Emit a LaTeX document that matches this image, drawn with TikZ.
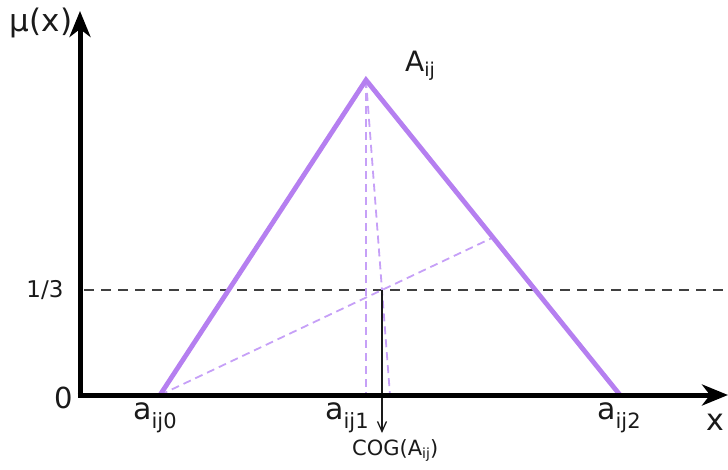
\documentclass[tikz,border=0pt]{standalone}
\usepackage{fontspec}
\setmainfont{DejaVu Sans}
\usetikzlibrary{positioning,calc,arrows.meta}
\usepackage{xcolor}
\definecolor{lilac}{HTML}{B57FF0}
\definecolor{lilacpale}{HTML}{C6A0F7}
\definecolor{inkgrey}{HTML}{1A1A1A}
\newcommand\lowsub[3]{\raisebox{#2}{\fontsize{#1}{#1}\selectfont #3}}

\begin{document}
\begin{tikzpicture}[x=1pt,y=1pt,
  axis/.style={line width=5pt,black,-{Stealth[length=26pt,width=21pt,inset=8pt]}},
  tri/.style={line width=4.8pt,lilac},
  hint/.style={line width=1.8pt,lilacpale,dash pattern=on 8pt off 5pt},
  guide/.style={line width=1.6pt,black!75,dash pattern=on 10pt off 7pt},
  cog/.style={line width=1.3pt,inkgrey,-{Straight Barb[length=10pt,width=9pt]}},
  lbl/.style={inner sep=0pt,text=inkgrey}]
  \useasboundingbox (0,0) rectangle (728,469);
  % axes
  \coordinate (O) at (80,74);
  \coordinate (ytop) at (80,458);
  \coordinate (xend) at (728,74);
  % triangle A_ij
  \coordinate (a0) at (160,74);
  \coordinate (peak) at (366,389);
  \coordinate (a2) at (620,74);
  \coordinate (G) at (382,179);
  \coordinate (hend) at (728,179);
  \coordinate (cogtip) at (382,36);

  \draw[guide] ($(O |- G)+(4,0)$) -- (hend);
  \draw[hint] (peak) -- (peak |- O);
  \draw[hint] (peak) -- ($(a0)!0.5!(a2)$);
  \draw[hint] (a0) -- ($(peak)!0.5!(a2)$);
  \draw[tri] (a0) -- (peak) -- (a2);
  \draw[cog] (G) -- (cogtip);
  \draw[axis] ($(O)+(0,-2.5)$) -- (ytop);
  \draw[axis] ($(O)+(-2.5,0)$) -- (xend);

  % labels
  \node[lbl,font=\fontsize{31}{31}\selectfont] (mu) at (41,446) {μ(x)};
  \node[lbl,font=\fontsize{23}{23}\selectfont] (third) at (45,179) {1/3};
  \node[lbl,font=\fontsize{29}{29}\selectfont] (zero) at (64,71) {0};
  \foreach \px/\k in {133/0,325/1,597/2}
    \node[lbl,anchor=base west,font=\fontsize{30}{30}\selectfont] (a\k) at (\px,50)
      {a\lowsub{21}{-9pt}{ij\k}};
  \node[lbl,anchor=base,font=\fontsize{30}{30}\selectfont] (xlab) at (715,39) {x};
  \node[lbl,anchor=base west,font=\fontsize{28}{28}\selectfont] (Aij) at (405,397)
    {A\lowsub{19}{-5pt}{ij}};
  \node[lbl,anchor=base west,font=\fontsize{21}{21}\selectfont] (coglab) at (352,14)
    {COG(A\lowsub{14}{-3pt}{ij})};
\end{tikzpicture}
\end{document}
